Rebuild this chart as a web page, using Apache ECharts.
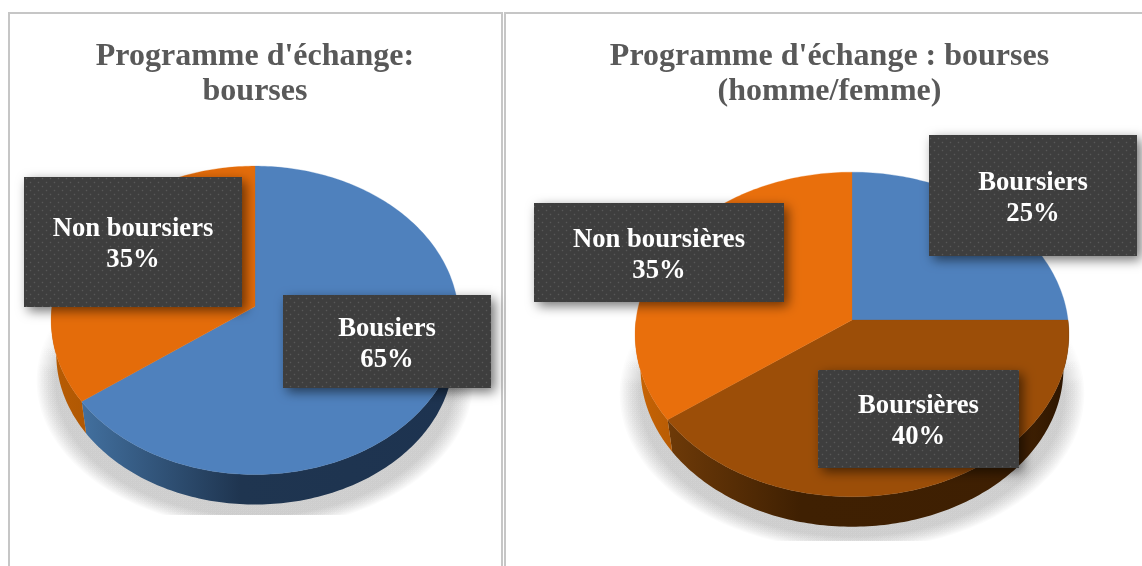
<!DOCTYPE html>
<html><head><meta charset="utf-8">
<style>html,body{margin:0;padding:0;background:#fff}#c{width:1142px;height:566px}</style>
<script src="https://cdn.jsdelivr.net/npm/echarts@6/dist/echarts.min.js"></script>
</head><body><div id="c"></div>
<script>
const titleLeft = "Programme d'échange:\nbourses";
const titleRight = "Programme d'échange : bourses\n(homme/femme)";
const leftCategories = ['Bousiers', 'Non boursiers'];
const leftValues = [65, 35];
const rightCategories = ['Boursiers', 'Boursières', 'Non boursières'];
const rightValues = [25, 40, 35];

const FONT = '"Liberation Serif","Times New Roman",serif';
const leftPie = {
  cx: 255, hub: 306.6, rx: 203, r: 153, depth: 30, clipBottom: 515,
  tops: ['#4f81bd', '#e46c0a'],
  walls: [
    [[0, '#42709f'], [0.42, '#1f3550'], [1, '#1d3350']],
    [[0, '#b85c04'], [1, '#b05803']]
  ],
  boxes: [
    [283, 295, 208, 93],
    [24, 177, 218, 130]
  ]
};
const rightPie = {
  cx: 852, hub: 320, rx: 216, r: 161, depth: 30, clipBottom: 541,
  tops: ['#4f81bd', '#9c4e08', '#e96f0c'],
  walls: [
    [[0, '#1f3550'], [1, '#1f3550']],
    [[0, '#6e3a08'], [0.33, '#3f2002'], [0.9, '#3e1f02'], [1, '#2a1400']],
    [[0, '#c86405'], [1, '#b85c04']]
  ],
  boxes: [
    [929, 135, 208, 121],
    [818, 370, 201, 98],
    [534, 203, 250, 99]
  ]
};
const K = 0.089, WALL_SCALE = 0.975;

function rimPoint(p, deg, scale, dy) {
  const a = deg * Math.PI / 180, u = Math.sin(a), v = -Math.cos(a), w = 1 - K * v;
  return [p.cx + scale * p.rx * u / w, p.hub + dy + scale * p.r * v / w];
}
function arc(p, from, to, scale, dy) {
  const pts = [], n = Math.max(2, Math.ceil(Math.abs(to - from)));
  for (let i = 0; i <= n; i++) pts.push(rimPoint(p, from + (to - from) * i / n, scale, dy));
  return pts;
}
function pieRender(p) {
  const wallDy = p.depth + (1 - WALL_SCALE) * p.r / (1 - K);
  return function (params, api) {
    const value = api.value(0), start = api.value(1);
    const a0 = start * 3.6, a1 = (start + value) * 3.6, i = params.dataIndex;
    const children = [];
    const w0 = Math.max(a0, 90), w1 = Math.min(a1, 270);
    if (w1 > w0) {
      const upper = arc(p, w0, w1, 1, 0), lower = arc(p, w0, w1, WALL_SCALE, wallDy);
      const pts = upper.concat(lower.slice().reverse());
      const xs = pts.map(q => q[0]);
      children.push({
        type: 'polygon', shape: { points: pts },
        style: { fill: new echarts.graphic.LinearGradient(Math.min.apply(null, xs), 0, Math.max.apply(null, xs), 0,
          p.walls[i].map(s => ({ offset: s[0], color: s[1] })), true) }
      });
    }
    children.push({
      type: 'polygon',
      shape: { points: [[p.cx, p.hub]].concat(arc(p, a0, a1, 1, 0)) },
      style: { fill: p.tops[i], stroke: p.tops[i], lineWidth: 0.3 }
    });
    return { type: 'group', children };
  };
}
function shadowRender(p) {
  return function () {
    const children = [], N = 14, cy = p.hub + 74;
    for (let j = 0; j < N; j++) {
      const sc = 0.985 + 0.09 * j / (N - 1);
      const pts = [];
      for (let d = 0; d < 360; d += 2) {
        const a = d * Math.PI / 180;
        pts.push([p.cx + sc * p.rx * Math.sin(a), cy - sc * 0.9 * p.r * Math.cos(a)]);
      }
      children.push({
        type: 'polygon', shape: { points: pts },
        style: { fill: new echarts.graphic.LinearGradient(0, p.hub, 0, p.hub + 65,
          [{ offset: 0, color: 'rgba(0,0,0,0)' }, { offset: 1, color: 'rgba(0,0,0,0.017)' }], true) }
      });
    }
    return {
      type: 'group', children,
      clipPath: { type: 'rect', shape: { x: 0, y: 0, width: 1142, height: p.clipBottom } }
    };
  };
}
const tile = document.createElement('canvas');
tile.width = tile.height = 8;
(function () {
  const g = tile.getContext('2d');
  g.fillStyle = '#3e3e3e'; g.fillRect(0, 0, 8, 8);
  [[2, 2], [6, 6]].forEach(function (q) {
    g.fillStyle = '#434343';
    g.fillRect(q[0] - 1, q[1], 3, 1); g.fillRect(q[0], q[1] - 1, 1, 3);
    g.fillStyle = '#585858'; g.fillRect(q[0], q[1], 1, 1);
  });
})();
function labelRender(p, names) {
  return function (params, api) {
    const b = p.boxes[params.dataIndex];
    return {
      type: 'group',
      children: [
        { type: 'rect', shape: { x: b[0], y: b[1], width: b[2], height: b[3] },
          style: { fill: { image: tile, repeat: 'repeat' }, shadowBlur: 12, shadowOffsetX: 4, shadowOffsetY: 4, shadowColor: 'rgba(0,0,0,0.55)' } },
        { type: 'text', style: {
            x: b[0] + b[2] / 2, y: b[1] + b[3] / 2 + 3,
            text: names[params.dataIndex] + '\n' + api.value(0) + '%',
            fill: '#ffffff', align: 'center', verticalAlign: 'middle',
            font: 'bold 26.67px ' + FONT, lineHeight: 31 } }
      ]
    };
  };
}
function rows(values, names) {
  let sum = 0;
  return values.map((v, i) => { const r = { name: names[i], value: [v, sum] }; sum += v; return r; });
}
function seriesFor(p, values, names) {
  const data = rows(values, names);
  const base = { type: 'custom', coordinateSystem: 'none', silent: true, animation: false };
  return [
    Object.assign({}, base, { z: 1, data: [data[0]], renderItem: shadowRender(p) }),
    Object.assign({}, base, { z: 2, data, renderItem: pieRender(p) }),
    Object.assign({}, base, { z: 3, data, renderItem: labelRender(p, names) })
  ];
}
const frame = [[8, 12, 2, 554], [8, 12, 495, 2], [501, 12, 2, 554], [504, 12, 2, 554], [504, 12, 638, 2]];
const titleStyle = { fontFamily: FONT, fontSize: 32, fontWeight: 'bold', color: '#595959', lineHeight: 35 };
const chart = echarts.init(document.getElementById('c'), null, { renderer: 'canvas' });
chart.setOption({
  animation: false,
  backgroundColor: '#ffffff',
  title: [
    { text: titleLeft, left: 255, top: 39, textAlign: 'center', textStyle: titleStyle, padding: 0 },
    { text: titleRight, left: 829.5, top: 39, textAlign: 'center', textStyle: titleStyle, padding: 0 }
  ],
  graphic: frame.map(f => ({ type: 'rect', shape: { x: f[0], y: f[1], width: f[2], height: f[3] }, style: { fill: '#c6c6c6' }, silent: true })),
  series: seriesFor(leftPie, leftValues, leftCategories).concat(seriesFor(rightPie, rightValues, rightCategories))
});
</script></body></html>
